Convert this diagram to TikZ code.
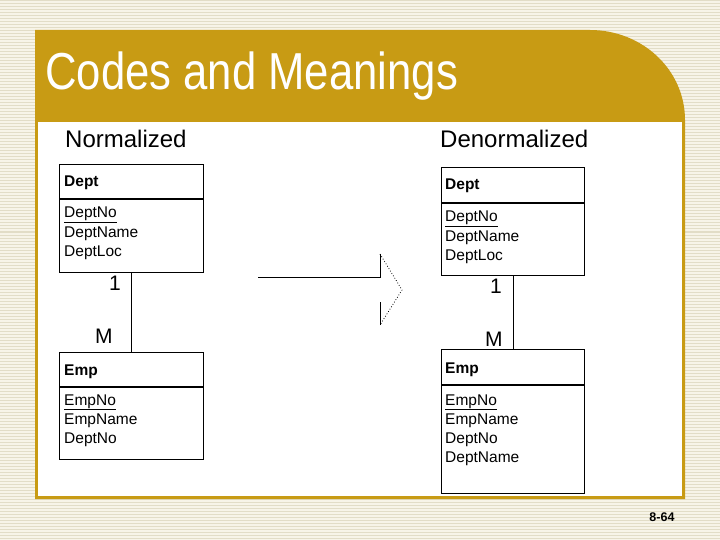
\documentclass[tikz,border=0pt]{standalone}
\usepackage{fontspec}
\setmainfont{Liberation Sans}
\newfontfamily\titlefont[FakeStretch=0.84]{Liberation Sans}
\definecolor{gold}{RGB}{200,155,20}
\definecolor{bgbase}{RGB}{247,244,232}
\definecolor{bgline}{RGB}{226,221,199}
\tikzset{
  stripe/.style={bgline, line width=1pt},
  tbl/.style={draw=black, line width=1.3pt, inner sep=0pt, anchor=north west},
  divider/.style={line width=1.3pt},
  hdr/.style={font=\fontsize{15.5}{18}\selectfont\bfseries, anchor=base west, inner sep=0pt},
  attr/.style={font=\fontsize{15.5}{18}\selectfont, anchor=base west, inner sep=0pt},
  card/.style={font=\fontsize{21}{24}\selectfont, anchor=base west, inner sep=0pt},
  subtitle/.style={font=\fontsize{24}{28}\selectfont, anchor=base west, inner sep=0pt},
  link/.style={line width=1pt},
}
\begin{document}
\begin{tikzpicture}[x=1pt,y=-1pt]
\useasboundingbox (0,0) rectangle (720,540);
% background
\fill[bgbase] (0,0) rectangle (720,540);
\foreach \yy in {1,4,...,540} \draw[stripe] (0,\yy) -- (720,\yy);
% panel
\fill[gold] (35,30) -- (590,30) .. controls (642.5,30) and (685,70) .. (685,120) -- (685,499) -- (35,499) -- cycle;
\fill[white] (38,122) rectangle (682,496);
% title
\node[font=\titlefont\fontsize{52}{56}\selectfont, text=white, anchor=base west, inner sep=0pt] (title) at (45,90) {Codes and Meanings};
\node[subtitle] (norm) at (65,148) {Normalized};
\node[subtitle] (denorm) at (440,148) {Denormalized};
% left tables
\node[tbl, minimum width=144pt, minimum height=108pt] (dept1) at (59,164) {};
\draw[divider] (59,199) -- (203,199);
\node[hdr] (dept1h) at (64,187) {Dept};
\node[attr] (dept1a) at (64,218) {\underline{DeptNo}};
\node[attr] (dept1b) at (64,237) {DeptName};
\node[attr] (dept1c) at (64,256) {DeptLoc};
\node[tbl, minimum width=144pt, minimum height=107pt] (emp1) at (59,352) {};
\draw[divider] (59,387) -- (203,387);
\node[hdr] (emp1h) at (64,375) {Emp};
\node[attr] (emp1a) at (64,405) {\underline{EmpNo}};
\node[attr] (emp1b) at (64,424) {EmpName};
\node[attr] (emp1c) at (64,443) {DeptNo};
\draw[link] (dept1.south) -- (emp1.north);
\node[card] (one1) at (109,290) {1};
\node[card] (m1) at (95,343) {M};
% arrow
\coordinate (ar1) at (258,277);
\coordinate (ar2) at (380,277);
\coordinate (ar3) at (380,254);
\coordinate (ar4) at (402,290);
\coordinate (ar5) at (380,325);
\coordinate (ar6) at (380,302);
\draw[line width=1pt] (ar1) -- (ar2) -- (ar3);
\draw[line width=0.8pt, dotted] (ar3) -- (ar4) -- (ar5);
\draw[line width=1pt] (ar5) -- (ar6);
% right tables
\node[tbl, minimum width=143pt, minimum height=108pt] (dept2) at (441,167) {};
\draw[divider] (441,203) -- (584,203);
\node[hdr] (dept2h) at (445,190) {Dept};
\node[attr] (dept2a) at (445,222) {\underline{DeptNo}};
\node[attr] (dept2b) at (445,241) {DeptName};
\node[attr] (dept2c) at (445,260) {DeptLoc};
\node[tbl, minimum width=143pt, minimum height=144pt] (emp2) at (441,349) {};
\draw[divider] (441,385) -- (584,385);
\node[hdr] (emp2h) at (445,373) {Emp};
\node[attr] (emp2a) at (445,405) {\underline{EmpNo}};
\node[attr] (emp2b) at (445,424) {EmpName};
\node[attr] (emp2c) at (445,443) {DeptNo};
\node[attr] (emp2d) at (445,462) {DeptName};
\draw[link] (dept2.south) -- (emp2.north);
\node[card] (one2) at (490,293) {1};
\node[card] (m2) at (485,346) {M};
% page number
\node[font=\fontsize{12.5}{14}\selectfont\bfseries, anchor=base, inner sep=0pt] (pg) at (662,521) {8-64};
\end{tikzpicture}
\end{document}
